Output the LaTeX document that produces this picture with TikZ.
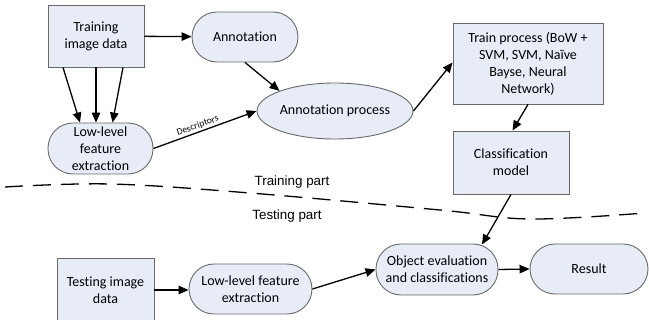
\documentclass[tikz,border=0pt]{standalone}
\usepackage{fontspec}
\setmainfont[Ligatures=NoCommon]{Carlito}
\newfontfamily\partfont{Liberation Sans}
\usepackage{tikz}
\usetikzlibrary{positioning,arrows.meta,shapes.geometric}
\definecolor{boxfill}{RGB}{231,236,247}
\definecolor{boxline}{RGB}{105,105,105}

\tikzset{
    databox/.style={draw=boxline, fill=boxfill, line width=0.9pt, rectangle, align=center, inner sep=0pt, font=\fontsize{14}{17}\selectfont},
    roundbox/.style={databox, rounded corners=#1},
    ovalbox/.style={draw=boxline, fill=boxfill, line width=0.9pt, ellipse, inner sep=0pt, font=\fontsize{14}{17}\selectfont},
    flow/.style={-{Triangle[length=10pt,width=8.5pt]}, line width=1.3pt, black},
    partlabel/.style={font=\partfont\fontsize{13.4}{16}\selectfont}
}

\begin{document}
\begin{tikzpicture}[x=1pt,y=-1pt]
    \useasboundingbox (0,0) rectangle (649,320);
    \clip (0,0) rectangle (649,320);

    % training part
    \node[databox, minimum width=96pt, minimum height=62pt] (traindata) at (96,36) {Training\\image data};
    \node[roundbox=25pt, minimum width=106pt, minimum height=50pt] (annot) at (245,37) {Annotation};
    \node[roundbox=25pt, minimum width=105pt, minimum height=51pt] (lowtop) at (100.5,148.5) {Low-level\\feature\\extraction};
    \node[ovalbox, minimum width=151pt, minimum height=56pt] (annproc) at (335,111) {Annotation process};
    \node[databox, minimum width=150pt, minimum height=81pt] (trainproc) at (528,63.5) {Train process (BoW +\\SVM, SVM, Na\"{\i}ve\\Bayse, Neural\\Network)};
    \node[databox, minimum width=116pt, minimum height=63pt] (classif) at (511,162.5) {Classification\\model};

    % testing part
    \node[databox, minimum width=97pt, minimum height=64pt] (testdata) at (105.5,290) {Testing image\\data};
    \node[roundbox=25pt, minimum width=123pt, minimum height=50pt] (lowbot) at (250.5,289) {Low-level feature\\extraction};
    \node[roundbox=25pt, minimum width=122pt, minimum height=51pt] (objeval) at (437,269.5) {Object evaluation\\and classifications};
    \node[roundbox=25pt, minimum width=118pt, minimum height=50pt] (result) at (589,269) {Result};

    % separation
    \draw[line width=1.3pt, dash pattern=on 18pt off 10pt] plot[smooth, tension=0.6] coordinates {(5,187) (110,184) (250,193) (440,210) (530,219) (645,213)};
    \node[partlabel] (trainlbl) at (292,182) {Training part};
    \node[partlabel] (testlbl) at (287,216) {Testing part};

    \draw[flow] (traindata) -- (annot);
    \draw[flow] ([xshift=-33pt]traindata.south) -- ([xshift=-20.5pt]lowtop.north);
    \draw[flow] ([xshift=0pt]traindata.south) -- ([xshift=-4.5pt]lowtop.north);
    \draw[flow] ([xshift=27pt]traindata.south) -- ([xshift=12pt]lowtop.north);
    \draw[flow] (annot.south) -- (annproc.north west);
    \draw[flow] (lowtop.east) -- node[pos=0.45, above, sloped, inner sep=1.5pt, font=\fontsize{9.5}{11}\selectfont] {Descriptors} (annproc.west);
    \draw[flow] (annproc.east) -- ([yshift=1pt]trainproc.west);
    \draw[flow] (trainproc.south) -- ([xshift=1.5pt]classif.north);
    \draw[flow] (classif.south) -- ([xshift=45pt,yshift=-1pt]objeval.north);
    \draw[flow] (testdata.east) -- (testdata.east -| lowbot.west);
    \draw[flow] (lowbot.east) -- (objeval.west);
    \draw[flow] (objeval.east) -- (result.west);
\end{tikzpicture}
\end{document}
